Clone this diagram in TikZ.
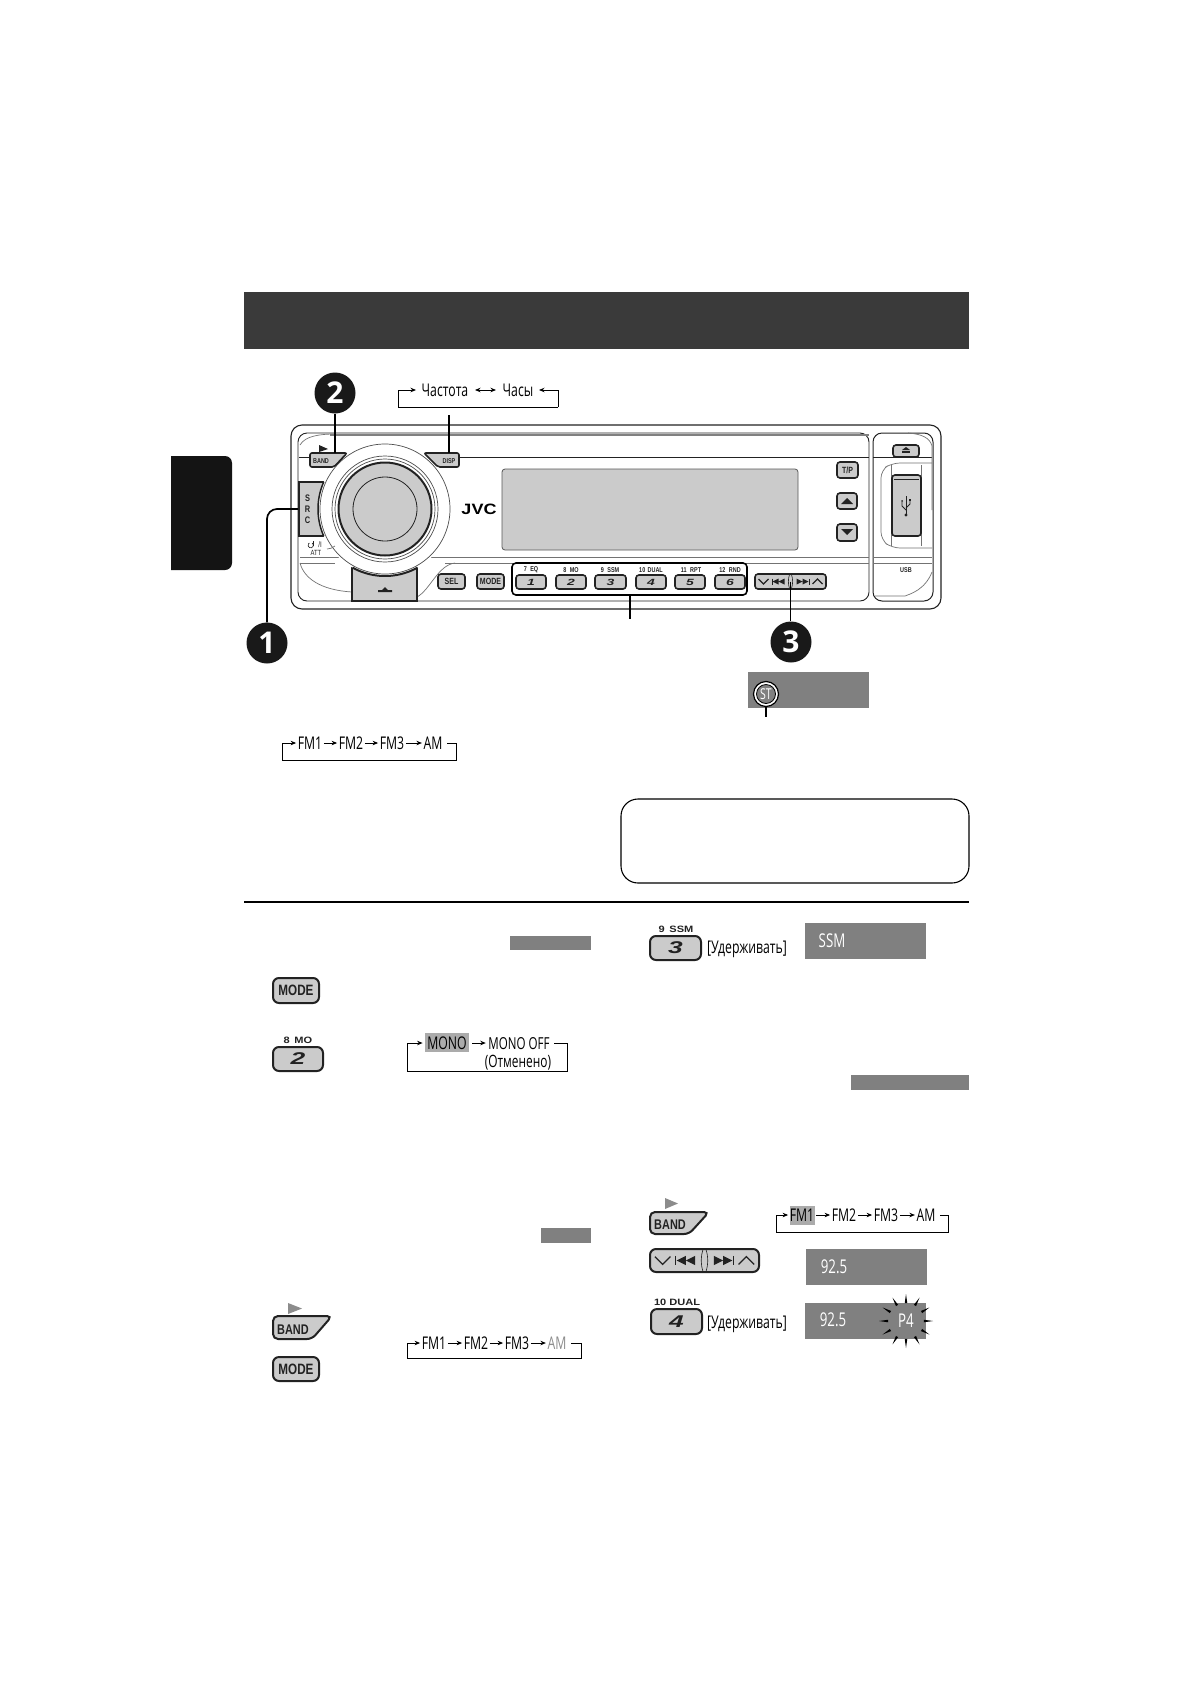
\documentclass[tikz,border=0pt]{standalone}
\usepackage{fontspec}
\setmainfont{Open Sans}
\newfontfamily\cond[FakeStretch=0.70]{Open Sans}
\newfontfamily\btnf[FakeStretch=0.78]{Liberation Sans}
\newfontfamily\btnw[FakeStretch=1.2]{Liberation Sans}
\newfontfamily\numf[FakeStretch=1.55]{Liberation Sans}
\newcommand\fsz[1]{\fontsize{#1}{#1}\selectfont}
\usetikzlibrary{arrows.meta,calc}
\definecolor{hdr}{HTML}{3A3A3A}
\definecolor{pan}{HTML}{CBCBCB}
\definecolor{dsp}{HTML}{808080}
\definecolor{hil}{HTML}{ABABAB}
\definecolor{ln}{HTML}{222222}
\tikzset{
  x=1pt,y=-1pt,
  lbl/.style={font=\cond\fsz{17.5},inner sep=1.5pt,text height=12pt,text depth=0pt,text=black},
  wht/.style={lbl,text=white,font=\cond\fsz{19}},
  flow/.style={line width=.9pt,-{Stealth[length=5.5pt,width=4.5pt]}},
  frame/.style={line width=.9pt},
  leader/.style={line width=1.7pt,black},
  badge/.style={circle,fill=black!90,minimum size=41pt,inner sep=0pt,text=white,font=\bfseries\fsz{30}},
  btn/.style={draw=ln,fill=pan,line width=1.6pt,rounded corners=3pt,inner sep=0pt,text=ln},
  bigbtn/.style={draw=ln,fill=pan,line width=2pt,rounded corners=6pt,inner sep=0pt,text=ln},
  panel/.style={draw=ln,line width=1pt},
  thin/.style={draw=black!55,line width=.7pt},
  slant/.style={draw=ln,fill=pan,line width=1.6pt,rounded corners=2pt},
  bar/.style={fill=dsp,draw=none,inner sep=0pt},
  tiny/.style={font=\btnf\bfseries\fsz{7},inner sep=0pt,text=ln},
  keylabel/.style={font=\btnw\bfseries\fsz{9.2},inner sep=0pt,text=ln},
}
% box with corners: style, name, x1,y1,x2,y2, text
\newcommand\bx[7]{\node[#1,anchor=center,minimum width={(#5-#3)*1pt},minimum height={(#6-#4)*1pt}] (#2) at ({(#3+#5)/2},{(#4+#6)/2}) {#7};}
% skip button contents
\newcommand\skipico[3]{\begin{scope}[shift={(#1,#2)},scale=#3]
  \draw[ln,line width=1.3pt] (-32,-2.5) -- (-27,2.5) -- (-22,-2.5);
  \draw[ln,line width=1pt] (-18.5,-3) -- (-18.5,3);
  \fill[ln] (-18,0) -- (-12,-3) -- (-12,3) -- cycle (-12,0) -- (-6,-3) -- (-6,3) -- cycle;
  \draw[ln,line width=.6pt] (-1,-7) .. controls (-2.5,-2) and (-2.5,2) .. (-1,7);
  \draw[ln,line width=.6pt] (1,-7) .. controls (2.5,-2) and (2.5,2) .. (1,7);
  \fill[ln] (12,0) -- (6,-3) -- (6,3) -- cycle (18,0) -- (12,-3) -- (12,3) -- cycle;
  \draw[ln,line width=1pt] (18.5,-3) -- (18.5,3);
  \draw[ln,line width=1.3pt] (22,2.5) -- (27,-2.5) -- (32,2.5);
\end{scope}}
\begin{document}
\begin{tikzpicture}
\useasboundingbox (0,0) rectangle (1190,1684);
\fill[white] (0,0) rectangle (1190,1684);
% header and side tab
\fill[hdr] (244,292) rectangle (969,349);
\fill[black!92,rounded corners=7pt] (160,456) -- (232,456) -- (232,570) -- (160,570) -- cycle;
\fill[white] (160,450) rectangle (171,576);
% device shell
\draw[panel,line width=1.1pt,rounded corners=11pt] (291,425) rectangle (941,609);
\draw[panel,line width=.9pt,rounded corners=9pt] (298,433) -- (869,433) -- (869,601) -- (298,601) -- cycle;
\draw[panel,line width=1pt,rounded corners=9pt] (873,433) -- (933,433) -- (933,601) -- (873,601) -- cycle;
\draw[black!50,line width=1.5pt] (330,435) -- (869,435);
\draw[ln,line width=.8pt] (299,457) -- (869,457);
\draw[ln,line width=.7pt] (873,457) -- (932,457);
\draw[thin] (300,557) -- (869,557);
\draw[thin] (300,563) -- (335,563);
\draw[thin] (445,563) -- (869,563);
\draw[thin] (873,557) -- (932,557);
\draw[thin] (873,563) -- (932,563);
\draw[thin] (300,563) .. controls (304,578) and (320,590) .. (352,592);
\draw[thin] (417,597) .. controls (430,590) and (438,565) .. (455,563);
\draw[thin] (300,445) .. controls (305,436) and (320,434) .. (335,434);
\draw[thin] (932,510) -- (932,446) .. controls (930,438) and (922,434) .. (908,433);
% display
\node[draw=black!65,fill=pan,line width=.8pt,rounded corners=3pt,inner sep=0pt,minimum width=296pt,minimum height=81pt] (lcd) at (650,509.5) {};
% SRC and eject under the knob
\node[draw=ln,fill=pan,line width=1.6pt,inner sep=0pt,minimum width=30pt,minimum height=54pt] (src) at (314,509) {};
\node[draw=ln,fill=pan,line width=1.6pt,inner sep=0pt,minimum width=65pt,minimum height=60pt] (ejbody) at (384.5,571) {};
% knob
\fill[white] (385,509) circle[radius=67];
\draw[ln,line width=1.5pt] plot[domain=156:204,samples=20] ({385+67*cos(\x)},{509+67*sin(\x)});
\draw[ln,line width=2pt] plot[domain=61:119,samples=20] ({385+67*cos(\x)},{509+67*sin(\x)});
\node[font=\btnf\bfseries\fsz{9.5},align=center,inner sep=0pt,text=ln] (srct) at (307.5,509) {S\\[1.5pt]R\\[1.5pt]C};
\draw[black!70,line width=.7pt] (385,509) circle[radius=65];
\draw[black!70,line width=.7pt] (385,509) circle[radius=53];
\draw[black!70,line width=.7pt] (385,509) circle[radius=50];
\node[circle,draw=ln,fill=pan,line width=2pt,minimum size=93pt,inner sep=0pt] (knob) at (385,509) {};
\draw[ln,line width=.8pt] (385,509) circle[radius=32];
\fill[ln] (378,590) -- (382,590) -- (385,587) -- (388,590) -- (392,590) -- (392,592) -- (378,592) -- cycle;
% power label
\draw[ln,line width=.6pt] (312,543) arc[start angle=-60,end angle=240,radius=2.6];
\draw[ln,line width=.6pt] (313.3,541) -- (313.3,545.5);
\node[tiny,font=\btnf\fsz{8}] (pow) at (320,545) {/I};
\node[tiny,font=\btnf\fsz{7.5}] (att) at (316,553) {ATT};
\draw[thin] (327,549) .. controls (330,549) and (332,548) .. (335,546);
% band / disp
\path[slant] (310,453) -- (347,453) -- (334,467) -- (310,467) -- cycle;
\path[slant] (424,453) -- (459,453) -- (459,467) -- (438,467) -- cycle;
\coordinate (bandtop) at (335,453);
\coordinate (disptop) at (449,453);
\node[tiny] (bandt) at (321,461) {BAND};
\node[tiny] (dispt) at (449,461) {DISP};
\fill[ln] (319,445) -- (328,449) -- (319,452) -- cycle;
\node[font=\btnw\bfseries\fsz{15},inner sep=0pt] (jvc) at (479,509) {JVC};
% small buttons
\bx{btn}{sel}{438}{574}{465}{589}{\btnf\bfseries\fsz{9}SEL}
\bx{btn}{mode}{477}{574}{504}{589}{\btnf\bfseries\fsz{9}MODE}
\node[draw=black,line width=1.6pt,rounded corners=4pt,inner sep=0pt,minimum width=235pt,minimum height=32pt] (group) at (629.5,579) {};
\bx{btn}{b1}{516}{575}{546}{589}{\numf\bfseries\itshape\fsz{9}1}
\bx{btn}{b2}{556}{575}{586}{589}{\numf\bfseries\itshape\fsz{9}2}
\bx{btn}{b3}{595}{575}{626}{589}{\numf\bfseries\itshape\fsz{9}3}
\bx{btn}{b4}{636}{575}{666}{589}{\numf\bfseries\itshape\fsz{9}4}
\bx{btn}{b5}{675}{575}{705}{589}{\numf\bfseries\itshape\fsz{9}5}
\bx{btn}{b6}{715}{575}{745}{589}{\numf\bfseries\itshape\fsz{9}6}
\node[tiny] (l1) at (531,570) {7\,\,\,EQ};
\node[tiny] (l2) at (571,570) {8\,\,\,MO};
\node[tiny] (l3) at (610,570) {9\,\,\,SSM};
\node[tiny] (l4) at (651,570) {10\,\,DUAL};
\node[tiny] (l5) at (691,570) {11\,\,\,RPT};
\node[tiny] (l6) at (730,570) {12\,\,\,RND};
\bx{btn}{skip}{755}{574}{826}{589}{}
\skipico{790.5}{581.5}{1}
% right side buttons
\bx{btn}{tp}{837}{462}{858}{478}{\btnf\bfseries\fsz{9}T/P}
\bx{btn}{up}{837}{493}{857}{509}{}
\bx{btn}{down}{837}{524}{857}{541}{}
\fill[ln] (841,504) -- (847,498) -- (853,504) -- cycle;
\fill[ln] (841,529) -- (847,535) -- (853,529) -- cycle;
\bx{btn}{ej}{893}{445}{919}{457}{}
\fill[ln] (902,450) -- (906,447) -- (910,450) -- cycle;
\fill[ln] (902,451) rectangle (910,453);
% usb
\draw[thin,rounded corners=8pt] (932,463) -- (892,463) -- (881,470) -- (881,540) -- (892,548) -- (932,548);
\draw[thin] (891,465) -- (891,546);
\draw[thin] (921,465) -- (921,546);
\bx{btn}{usbslot}{892}{475}{921}{536}{}
\draw[ln,line width=.7pt] (894,479) -- (919,479);
\draw[ln,line width=.8pt] (906,496) -- (906,515);
\draw[ln,line width=.8pt] (902,502) -- (902,506) -- (906,510);
\draw[ln,line width=.8pt] (910,500) -- (910,504) -- (906,508);
\fill[ln] (906,515) circle[radius=1.6];
\fill[ln] (902,501) circle[radius=1];
\fill[ln] (909,499) rectangle (911,501);
\node[tiny] (usbt) at (906,570) {USB};
\draw[thin] (932,572) .. controls (925,590) and (910,594) .. (905,596) -- (875,596);
% badges and leaders
\node[badge] (c2) at (335,393) {2};
\node[badge] (c1) at (267,643) {1};
\node[badge] (c3) at (791,642) {3};
\draw[leader] (c2.south) -- (c2.south |- bandtop);
\draw[leader,rounded corners=10pt] (src.west) -- (267,509) -- (c1.north);
\draw[leader] (skip.center) -- (skip.center |- c3.north);
\coordinate (grpend) at (630,619);
\draw[leader] (group.south -| grpend) -- (grpend);
\coordinate (dispend) at (449,415);
\draw[leader] (dispend) -- (disptop);
% clock cycle
\node[lbl] (freq) at (445,390) {Частота};
\node[lbl] (hrs) at (518,390) {Часы};
\coordinate (f1) at (398,407);
\coordinate (f2) at (558,407);
\draw[frame] (f1) -- (f2);
\draw[flow,shorten >=4pt] (f1) |- (freq.west);
\draw[flow,shorten >=4pt] (f2) |- (hrs.east);
\draw[flow,{Stealth[length=5.5pt,width=4.5pt]}-{Stealth[length=5.5pt,width=4.5pt]}] ([xshift=5]freq.east) -- ([xshift=-5]hrs.west);
% ST display
\bx{bar}{stbar}{748}{672}{869}{708}{}
\node[circle,draw=black,fill=white,line width=1.2pt,minimum size=25pt,inner sep=0pt] (stout) at (766,694) {};
\node[circle,fill=dsp,draw=black,line width=.8pt,minimum size=19pt,inner sep=0pt,text=white,font=\cond\fsz{15}] (st) at (766,694) {ST};
\coordinate (stend) at (766,717);
\draw[leader] (stout.south) -- (stend);
% first band cycle
\node[lbl] (a1) at (310,743) {FM1};
\node[lbl] (a2) at (351,743) {FM2};
\node[lbl] (a3) at (392,743) {FM3};
\node[lbl] (a4) at (433,743) {AM};
\draw[flow] (a1) -- (a2);\draw[flow] (a2) -- (a3);\draw[flow] (a3) -- (a4);
\coordinate (ar) at (456,760);\coordinate (al) at (282,760);
\draw[frame] ([xshift=3]a4.east) -| (ar) -- (al);
\draw[flow] (al) |- (a1.west);
% note box
\node[draw=black,line width=1.1pt,rounded corners=17pt,inner sep=0pt,minimum width=348pt,minimum height=84pt] (note) at (795,841) {};
% rule
\draw[black,line width=2.2pt] (244,902) -- (969,902);
% left column
\bx{bar}{g1}{510}{936}{591}{950}{}
\bx{bigbtn}{modeA}{273}{978}{319}{1003}{\btnf\bfseries\fsz{15}MODE}
\node[keylabel] (lab2) at (298,1040) {8\,\,\,MO};
\bx{bigbtn}{two}{273}{1047}{323}{1071}{\numf\bfseries\itshape\fsz{17}2}
\fill[hil] (425,1033) rectangle (469,1052);
\node[lbl] (mono) at (447,1043) {MONO};
\node[lbl,font=\cond\fsz{16.5}] (off) at (519,1043) {MONO OFF};
\node[lbl,font=\cond\fsz{17}] (can) at (518,1061) {(Отменено)};
\draw[flow] ([xshift=4]mono.east) -- ([xshift=-1]off.west);
\coordinate (mr) at (567,1071);\coordinate (ml) at (407,1071);
\draw[frame] ([xshift=3]off.east) -| (mr) -- (ml);
\draw[flow] (ml) |- ([xshift=-3]mono.west);
\bx{bar}{g3}{541}{1228}{591}{1243}{}
\path[slant,line width=2pt,rounded corners=5pt] (273,1316) -- (332,1316) -- (312,1339) -- (273,1339) -- cycle;
\node[font=\btnf\bfseries\fsz{14},inner sep=0pt,text=ln] (bandB) at (293,1330) {BAND};
\fill[black!45] (288,1303) -- (302,1308.5) -- (288,1314) -- cycle;
\bx{bigbtn}{modeB}{273}{1357}{319}{1381}{\btnf\bfseries\fsz{15}MODE}
\node[lbl] (d1) at (434,1343) {FM1};
\node[lbl] (d2) at (476,1343) {FM2};
\node[lbl] (d3) at (517,1343) {FM3};
\node[lbl,text=black!45] (d4) at (557,1343) {AM};
\draw[flow] (d1) -- (d2);\draw[flow] (d2) -- (d3);\draw[flow] (d3) -- (d4);
\coordinate (dr) at (581,1358);\coordinate (dl) at (407,1358);
\draw[frame] ([xshift=3]d4.east) -| (dr) -- (dl);
\draw[flow] (dl) |- (d1.west);
% right column
\node[keylabel] (lab3) at (676,929) {9\,\,\,SSM};
\bx{bigbtn}{three}{650}{936}{701}{960}{\numf\bfseries\itshape\fsz{17}3}
\node[lbl,anchor=center] (hold1) at (747,947) {[Удерживать]};
\bx{bar}{ssmbar}{805}{923}{926}{959}{}
\node[wht] (ssm) at (832,941) {SSM};
\bx{bar}{g2}{851}{1075}{969}{1090}{}
\path[slant,line width=2pt,rounded corners=5pt] (650,1212) -- (709,1212) -- (689,1234) -- (650,1234) -- cycle;
\node[font=\btnf\bfseries\fsz{14},inner sep=0pt,text=ln] (bandC) at (670,1225) {BAND};
\fill[black!45] (665,1198) -- (678,1203.5) -- (665,1209) -- cycle;
\fill[hil] (790,1206) rectangle (815,1225);
\node[lbl] (e1) at (802,1215) {FM1};
\node[lbl] (e2) at (844,1215) {FM2};
\node[lbl] (e3) at (886,1215) {FM3};
\node[lbl] (e4) at (926,1215) {AM};
\draw[flow] (e1) -- (e2);\draw[flow] (e2) -- (e3);\draw[flow] (e3) -- (e4);
\coordinate (er) at (948,1232);\coordinate (el) at (776,1232);
\draw[frame] ([xshift=3]e4.east) -| (er) -- (el);
\draw[flow] (el) |- (e1.west);
\bx{bigbtn}{skipB}{650}{1249}{759}{1272}{}
\skipico{704.5}{1260.5}{1.55}
\bx{bar}{f1bar}{806}{1249}{927}{1285}{}
\node[wht] (f925) at (834,1267) {92.5};
\node[keylabel] (lab4) at (677,1302) {10\,\,DUAL};
\bx{bigbtn}{four}{651}{1309}{702}{1334}{\numf\bfseries\itshape\fsz{17}4}
\node[lbl] (hold2) at (747,1322) {[Удерживать]};
\bx{bar}{f2bar}{805}{1303}{926}{1339}{}
\node[wht] (f925b) at (833,1320) {92.5};
\node[wht] (p4) at (906,1321) {P4};
\foreach \a in {0,30,...,330}
  \fill[black] ($(906,1321)+(\a:27)$) -- ($(906,1321)+(\a+4:18)$) -- ($(906,1321)+(\a-4:18)$) -- cycle;
\end{tikzpicture}
\end{document}
